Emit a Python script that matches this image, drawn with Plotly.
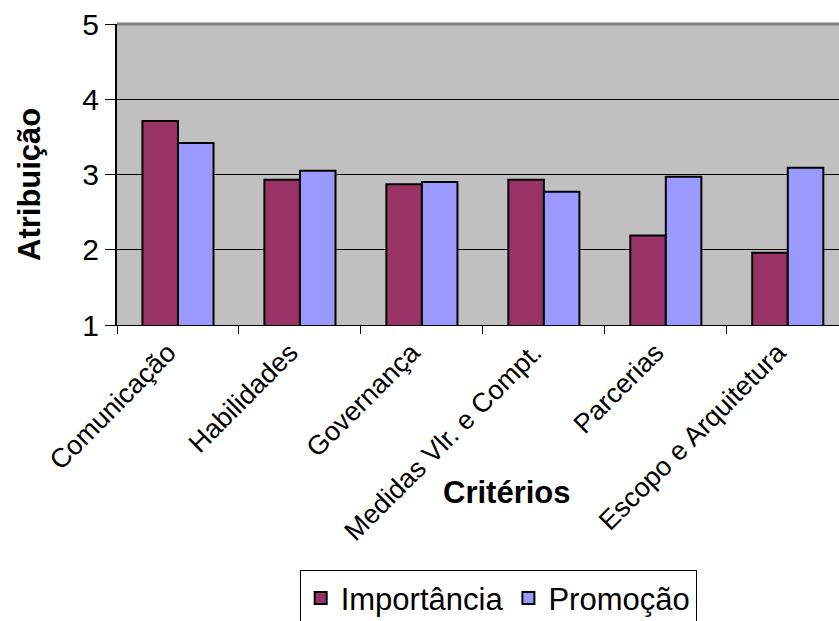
import plotly.graph_objects as go

# Critérios avaliados e notas médias atribuídas
criterios = ["Comunicação", "Habilidades", "Governança",
             "Medidas Vlr. e Compt.", "Parcerias", "Escopo e Arquitetura"]
importancia = [3.71, 2.93, 2.87, 2.93, 2.19, 1.96]
promocao = [3.42, 3.05, 2.90, 2.77, 2.97, 3.09]

FONT = "Liberation Sans, Arial, sans-serif"

fig = go.Figure()
fig.add_trace(go.Bar(
    x=criterios, y=importancia, name="Importância", base=0,
    marker=dict(color="#993366", line=dict(color="black", width=2)),
))
fig.add_trace(go.Bar(
    x=criterios, y=promocao, name="Promoção", base=0,
    marker=dict(color="#9999FF", line=dict(color="black", width=2)),
))

W, H = 839, 621
ml, mt = 117, 24
plot_h = 301

fig.update_layout(
    width=W, height=H,
    margin=dict(l=ml, r=0, t=mt, b=H - mt - plot_h, autoexpand=False),
    paper_bgcolor="white",
    plot_bgcolor="#C0C0C0",
    barmode="group",
    bargap=0.417,
    bargroupgap=0,
    font=dict(family=FONT, color="black"),
    showlegend=True,
    legend=dict(
        orientation="h",
        x=0.253, xanchor="left",
        y=-0.815, yanchor="top",
        bordercolor="black", borderwidth=1,
        bgcolor="white",
        font=dict(size=31, family=FONT),
        itemsizing="constant",
        tracegroupgap=0,
    ),
    xaxis=dict(
        type="category",
        range=[-0.5, 5.42],
        tickangle=-45,
        tickfont=dict(size=27, family=FONT),
        ticks="outside", ticklen=8, tickcolor="black",
        tickson="boundaries",
        ticklabelshift=-10,
        showline=True, linecolor="black", linewidth=1,
        showgrid=False,
    ),
    yaxis=dict(
        range=[1, 5],
        dtick=1,
        tickfont=dict(size=30, family=FONT),
        ticks="outside", ticklen=10, tickcolor="black",
        showline=True, linecolor="black", linewidth=2,
        showgrid=True, gridcolor="black", gridwidth=1,
        zeroline=False,
    ),
    shapes=[dict(
        type="line", xref="paper", yref="paper",
        x0=0, x1=1, y0=1, y1=1,
        line=dict(color="#808080", width=3),
    )],
    annotations=[
        dict(text="<b>Critérios</b>", xref="paper", yref="paper",
             x=(507 - ml) / (W - ml), y=(mt + plot_h - 492) / plot_h,
             xanchor="center", yanchor="middle", showarrow=False,
             font=dict(size=31, family=FONT)),
        dict(text="<b>Atribuição</b>", xref="paper", yref="paper",
             x=(29 - ml) / (W - ml), y=(mt + plot_h - 185) / plot_h,
             xanchor="center", yanchor="middle", showarrow=False,
             textangle=-90,
             font=dict(size=31, family=FONT)),
    ],
)

fig.write_html("out.html")
